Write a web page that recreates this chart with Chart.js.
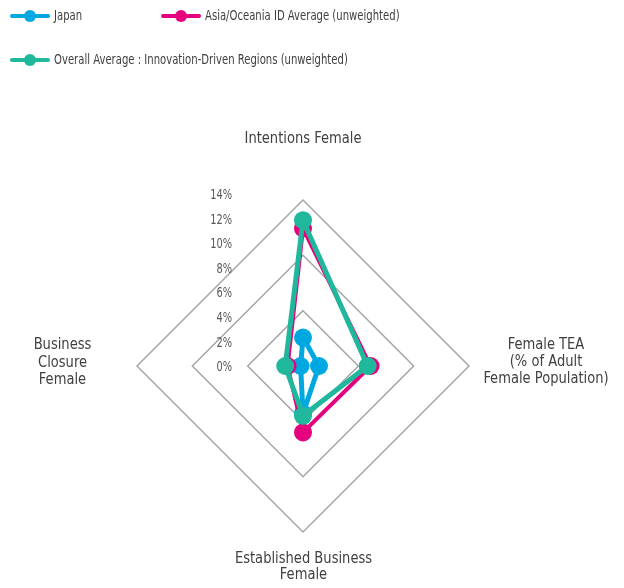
<!DOCTYPE html>
<html>
<head>
<meta charset="utf-8">
<script src="https://cdn.jsdelivr.net/npm/chart.js@4.4.1/dist/chart.umd.min.js"></script>
<style>
  body { margin: 0; background: #fff; }
  #wrap { position: relative; width: 624px; height: 588px; }
  #legend { position: absolute; left: 0; top: 0; font-family: "DejaVu Sans Condensed", "Liberation Sans", sans-serif; font-size: 14px; color: #404040; }
  .item { position: absolute; height: 20px; white-space: nowrap; }
  .swatch { position: absolute; left: 0; top: 8px; width: 40px; height: 4px; border-radius: 2px; }
  .dot { position: absolute; left: 14px; top: 4px; width: 12px; height: 12px; border-radius: 50%; }
  .txt { position: absolute; left: 44px; top: 1px; transform: scaleX(0.8); transform-origin: 0 50%; }
</style>
</head>
<body>
<div id="wrap">
  <canvas id="radar"></canvas>
  <div id="legend"></div>
</div>
<script>
const axisLabels = [
  ["Intentions Female"],
  ["Female TEA", "(% of Adult", "Female Population)"],
  ["Established Business", "Female"],
  ["Business", "Closure", "Female"]
];
const seriesNames = [
  "Japan",
  "Asia/Oceania ID Average (unweighted)",
  "Overall Average : Innovation-Driven Regions (unweighted)"
];
const japan   = [2.4, 1.35, 4.0, 0.2];
const asiaAvg = [11.6, 5.7, 5.6, 1.3];
const idAvg   = [12.3, 5.45, 4.2, 1.5];
const tickValues = [0, 2, 4, 6, 8, 10, 12, 14];
const colors = ["#00a8e1", "#e5007d", "#20b89c"];

// legend (html)
const legendPos = [[10, 6], [161, 6], [10, 50]];
const legend = document.getElementById("legend");
seriesNames.forEach((name, i) => {
  const d = document.createElement("div");
  d.className = "item";
  d.style.left = legendPos[i][0] + "px";
  d.style.top = legendPos[i][1] + "px";
  d.innerHTML = `<span class="swatch" style="background:${colors[i]}"></span>` +
    `<span class="dot" style="background:${colors[i]}"></span>` +
    `<span class="txt">${name}</span>`;
  legend.appendChild(d);
});

function squeezedText(ctx, t, x, y, sx) {
  ctx.save();
  ctx.translate(x, y);
  ctx.scale(sx, 1);
  ctx.fillText(t, 0, 0);
  ctx.restore();
}

const labelPlugin = {
  id: "axisText",
  afterDraw(chart) {
    const r = chart.scales.r;
    const ctx = chart.ctx;
    ctx.save();
    ctx.fillStyle = "#404040";
    ctx.font = '15px "DejaVu Sans Condensed", "Liberation Sans", sans-serif';
    ctx.textAlign = "center";
    ctx.textBaseline = "middle";
    const offs = [[0, -226.5, 17], [243, -20.5, 17], [0.5, 193.5, 16], [-240.5, -20.5, 17.5]];
    axisLabels.forEach((lines, i) => {
      lines.forEach((t, j) => {
        squeezedText(ctx, t, r.xCenter + offs[i][0], r.yCenter + offs[i][1] + j * offs[i][2], 0.97);
      });
    });
    ctx.font = '14px "DejaVu Sans Condensed", "Liberation Sans", sans-serif';
    ctx.fillStyle = "#595959";
    ctx.textAlign = "right";
    tickValues.forEach(v => {
      const dist = r.getDistanceFromCenterForValue(v) * 1.036;
      squeezedText(ctx, v + "%", r.xCenter - 71, r.yCenter + 1.5 - dist, 0.78);
    });
    ctx.restore();
  }
};

const series = [japan, asiaAvg, idAvg];
new Chart(document.getElementById("radar"), {
  type: "radar",
  data: {
    labels: axisLabels,
    datasets: series.map((vals, i) => ({
      label: seriesNames[i],
      data: vals,
      borderColor: colors[i],
      backgroundColor: colors[i],
      pointBackgroundColor: colors[i],
      pointBorderColor: colors[i],
      borderWidth: i === 1 ? 4 : 5,
      pointRadius: 9,
      pointBorderWidth: 0,
      fill: false,
      tension: 0,
      order: 2 - i
    }))
  },
  options: {
    responsive: true,
    maintainAspectRatio: false,
    animation: false,
    layout: { padding: { left: 137, right: 155, top: 200, bottom: 56 } },
    plugins: { legend: { display: false }, tooltip: { enabled: false } },
    scales: {
      r: {
        min: 0,
        max: 14,
        afterBuildTicks: (scale) => {
          scale.ticks = [0, 14 / 3, 28 / 3, 14].map(v => ({ value: v }));
        },
        ticks: { display: false },
        pointLabels: { display: false },
        angleLines: { display: false },
        grid: { circular: false, color: "#a6a6a6", lineWidth: 1.5 }
      }
    }
  },
  plugins: [labelPlugin]
});
</script>
</body>
</html>
